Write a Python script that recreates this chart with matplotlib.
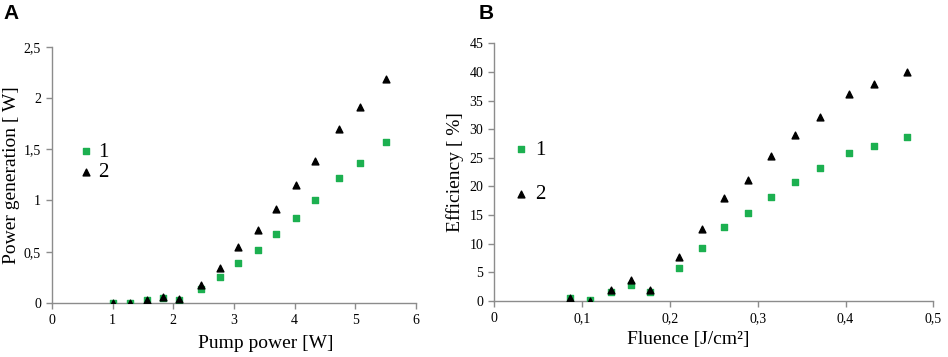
import matplotlib as mpl
mpl.use('Agg')
import matplotlib.pyplot as plt
from matplotlib.ticker import FuncFormatter

plt.rcParams['font.family'] = ['Liberation Serif', 'DejaVu Serif']

GREEN = '#1cb050'
GREY = '#8c8c8c'

# panel A: pump power [W] vs generated power [W]
pump = [1.01, 1.29, 1.56, 1.83, 2.09, 2.46, 2.77, 3.07, 3.39, 3.69, 4.02, 4.34, 4.73, 5.07, 5.50]
gen_1 = [0.0, 0.0, 0.025, 0.05, 0.03, 0.14, 0.25, 0.39, 0.52, 0.67, 0.83, 1.0, 1.22, 1.37, 1.57]
gen_2 = [0.0, 0.0, 0.025, 0.06, 0.035, 0.18, 0.34, 0.545, 0.71, 0.92, 1.15, 1.39, 1.70, 1.91, 2.19]

# panel B: fluence [J/cm2] vs efficiency [%]
fluence = [0.086, 0.109, 0.133, 0.156, 0.177, 0.210, 0.236, 0.262, 0.289, 0.315, 0.343, 0.371, 0.404, 0.433, 0.470]
eff_1 = [0.5, 0.05, 1.5, 2.75, 1.5, 5.65, 9.15, 12.95, 15.25, 18.2, 20.75, 23.15, 25.85, 27.1, 28.6]
eff_2 = [0.4, 0.0, 1.9, 3.7, 1.95, 7.7, 12.6, 18.0, 21.1, 25.3, 29.0, 32.2, 36.1, 37.8, 39.9]

labels = ['1', '2']


def comma(v, pos):
    return ('%g' % v).replace('.', ',')


def style(ax):
    for s in ['top', 'right']:
        ax.spines[s].set_visible(False)
    for s in ['left', 'bottom']:
        ax.spines[s].set_color(GREY)
        ax.spines[s].set_linewidth(1.0)
    ax.tick_params(direction='out', length=4, width=1, color=GREY, labelsize=10, pad=4)
    ax.xaxis.set_major_formatter(FuncFormatter(comma))
    ax.yaxis.set_major_formatter(FuncFormatter(comma))


fig = plt.figure(figsize=(9.48, 3.57), dpi=100)

# A
ax1 = fig.add_axes([0.0549, 0.1513, 0.3839, 0.7178])
ax1.scatter(pump, gen_1, marker='s', s=22, color=GREEN, label=labels[0], zorder=3)
ax1.scatter(pump, gen_2, marker='^', s=24, color='black', label=labels[1], zorder=3)
ax1.set_xlim(0, 6)
ax1.set_ylim(0, 2.5)
ax1.set_xticks(range(0, 7))
ax1.set_yticks([0, 0.5, 1, 1.5, 2, 2.5])
style(ax1)
ax1.set_xlabel('Pump power [W]', fontsize=14)
ax1.set_ylabel('Power generation [ W]', fontsize=14)
ax1.xaxis.set_label_coords(0.588, -0.125)
ax1.yaxis.set_label_coords(-0.088, 0.5)
ax1.legend(loc='center left', bbox_to_anchor=(0.03, 0.55), frameon=False, fontsize=15,
           handletextpad=0.0, labelspacing=0.05, borderpad=0, handlelength=1.2)

# B
ax2 = fig.add_axes([0.5214, 0.1577, 0.4631, 0.721])
ax2.scatter(fluence, eff_1, marker='s', s=22, color=GREEN, label=labels[0], zorder=3)
ax2.scatter(fluence, eff_2, marker='^', s=24, color='black', label=labels[1], zorder=3)
ax2.set_xlim(0, 0.5)
ax2.set_ylim(0, 45)
ax2.set_xticks([0, 0.1, 0.2, 0.3, 0.4, 0.5])
ax2.set_yticks(range(0, 50, 5))
style(ax2)
ax2.set_xlabel('Fluence [J/cm²]', fontsize=14)
ax2.set_ylabel('Efficiency [ %]', fontsize=14)
ax2.xaxis.set_label_coords(0.442, -0.118)
ax2.yaxis.set_label_coords(-0.069, 0.5)
ax2.legend(loc='center left', bbox_to_anchor=(0.008, 0.50), frameon=False, fontsize=15,
           handletextpad=0.1, labelspacing=1.2, borderpad=0, handlelength=1.2)

fig.text(0.004, 0.988, 'A', fontsize=15, fontweight='bold', family='Liberation Sans', va='top')
fig.text(0.505, 0.988, 'B', fontsize=15, fontweight='bold', family='Liberation Sans', va='top')

fig.savefig('out.png', dpi=100)
